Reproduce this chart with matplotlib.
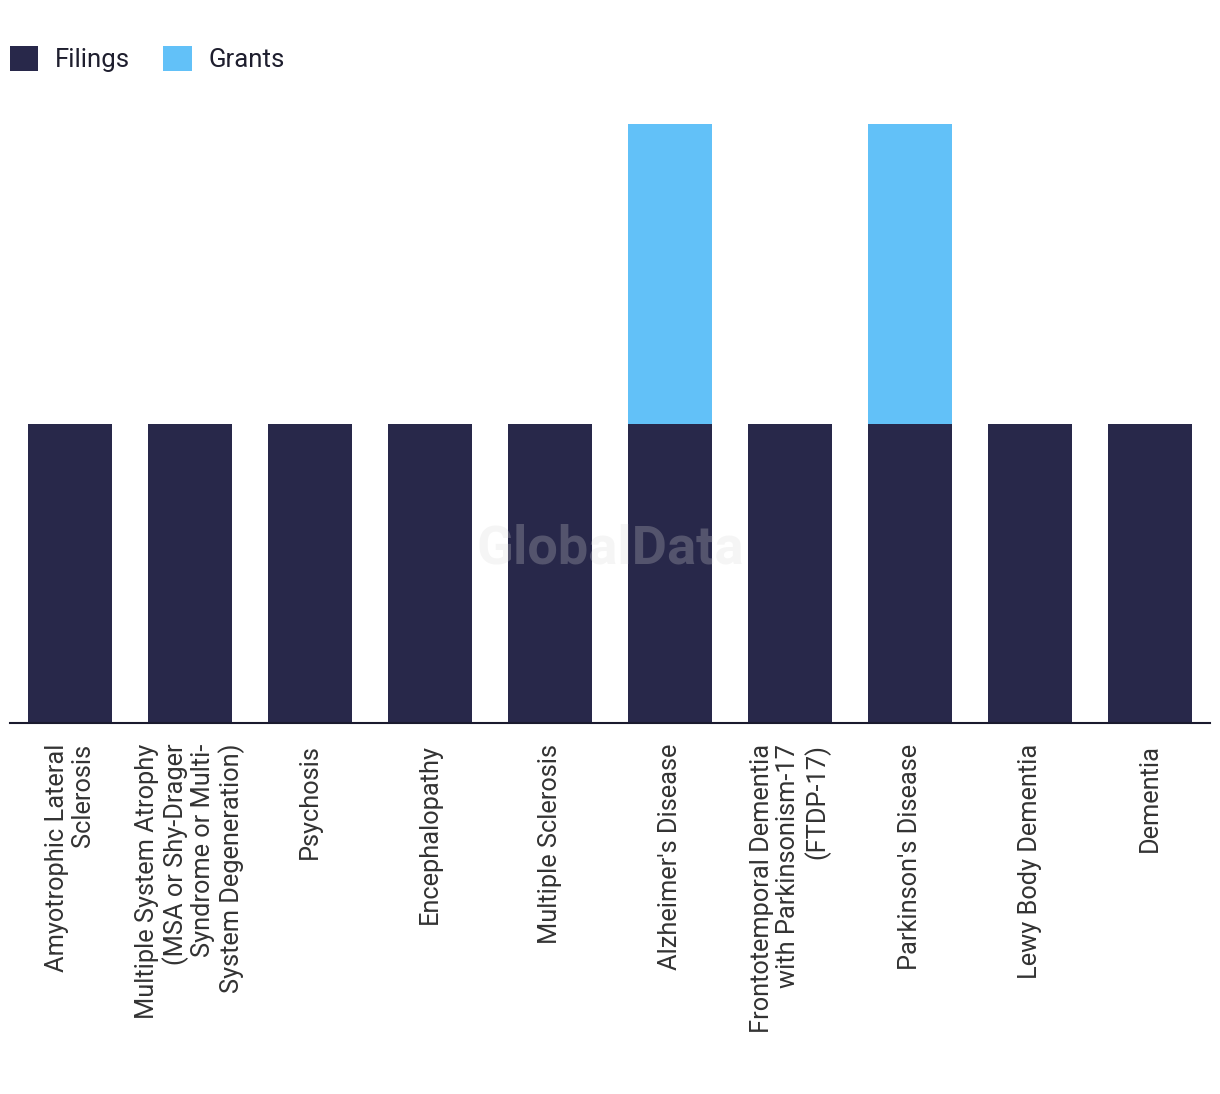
import matplotlib
matplotlib.use("Agg")
import matplotlib.pyplot as plt
import numpy as np

# data
categories = [
    "Amyotrophic Lateral\nSclerosis",
    "Multiple System Atrophy\n(MSA or Shy-Drager\nSyndrome or Multi-\nSystem Degeneration)",
    "Psychosis",
    "Encephalopathy",
    "Multiple Sclerosis",
    "Alzheimer's Disease",
    "Frontotemporal Dementia\nwith Parkinsonism-17\n(FTDP-17)",
    "Parkinson's Disease",
    "Lewy Body Dementia",
    "Dementia",
]
filings = [1, 1, 1, 1, 1, 1, 1, 1, 1, 1]
grants = [0, 0, 0, 0, 0, 1, 0, 1, 0, 0]

navy = "#28284a"
sky = "#62c1f8"

plt.rcParams["font.family"] = ["Roboto", "DejaVu Sans"]

fig = plt.figure(figsize=(12.2, 10.94), dpi=100)
ax = fig.add_axes([10 / 1220, 1 - 723 / 1094, 1200 / 1220, (723 - 124) / 1094])

x = np.arange(len(categories))
ax.bar(x, filings, width=0.7, color=navy, label="Filings", zorder=2)
ax.bar(x, grants, width=0.7, bottom=filings, color=sky, label="Grants", zorder=2)

ax.set_xlim(-0.5, len(categories) - 0.5)
ax.set_ylim(0, 2)
ax.set_yticks([])
for s in ["top", "right", "left"]:
    ax.spines[s].set_visible(False)
ax.spines["bottom"].set_color("#1a1a2e")
ax.spines["bottom"].set_linewidth(1.5)
ax.spines["bottom"].set_zorder(3)

ax.set_xticks(x)
ax.set_xticklabels(categories, rotation=90, ha="center", va="top",
                   multialignment="right", fontsize=18.3, color="#333333",
                   linespacing=1.13)
ax.tick_params(axis="x", length=0, pad=15)

# watermark
ax.text(0.5, 0.29, "GlobalData", transform=ax.transAxes, ha="center", va="center",
        fontsize=39, fontweight="bold", color="#d8d8d8", alpha=0.25, zorder=4)

fig.legend(loc="upper left", bbox_to_anchor=(10 / 1220, 1 - 46 / 1094), ncol=2,
           frameon=False, fontsize=18.5, handlelength=1.1, handleheight=1.1,
           handletextpad=0.65, columnspacing=1.3, labelcolor="#1e1e2e",
           borderaxespad=0, borderpad=0)

fig.savefig("out.png", dpi=100, facecolor="white")
